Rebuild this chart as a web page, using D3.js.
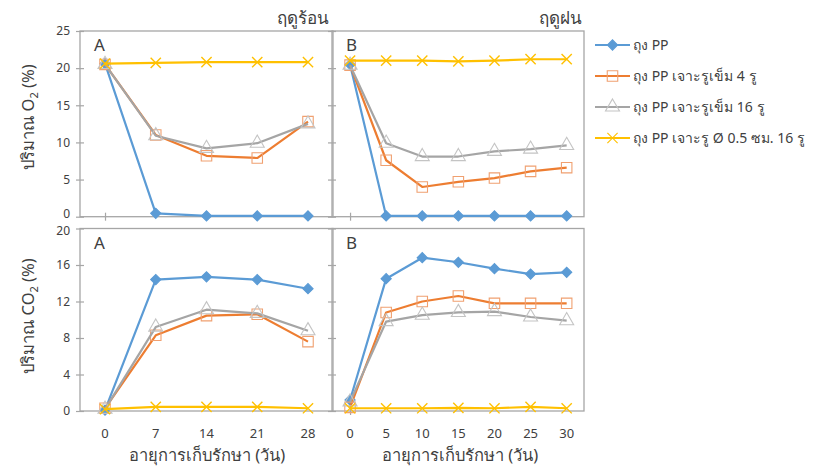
<!DOCTYPE html>
<html>
<head>
<meta charset="utf-8">
<script src="https://cdn.jsdelivr.net/npm/d3@7"></script>
<style>
  body { margin: 0; background: #fff; }
  svg text { font-family: "Noto Sans", "DejaVu Sans", sans-serif; fill: #404040; }
</style>
</head>
<body>
<div id="chart"></div>
<script>
// categorias (dias de almacenamiento)
var daysHot = [0, 7, 14, 21, 28];
var daysRain = [0, 5, 10, 15, 20, 25, 30];

var seriesNames = ["ถุง PP", "ถุง PP เจาะรูเข็ม 4 รู", "ถุง PP เจาะรูเข็ม 16 รู", "ถุง PP เจาะรู Ø 0.5 ซม. 16 รู"];
var seriesColors = ["#5B9BD5", "#ED7D31", "#A5A5A5", "#FFC000"];

// O2 ฤดูร้อน
var o2Hot = [
  [20.6, 0.45, 0.1, 0.1, 0.1],
  [20.5, 11.0, 8.2, 7.9, 12.8],
  [20.5, 10.9, 9.2, 9.9, 12.5],
  [20.6, 20.7, 20.8, 20.8, 20.8]
];
// O2 ฤดูฝน
var o2Rain = [
  [20.5, 0.1, 0.1, 0.1, 0.1, 0.1, 0.1],
  [20.4, 7.6, 4.0, 4.7, 5.2, 6.1, 6.6],
  [20.4, 9.9, 8.1, 8.1, 8.8, 9.1, 9.6],
  [21.0, 21.0, 21.0, 20.9, 21.0, 21.2, 21.2]
];
// CO2 ฤดูร้อน
var co2Hot = [
  [0.1, 14.4, 14.7, 14.4, 13.4],
  [0.3, 8.3, 10.45, 10.6, 7.6],
  [0.2, 9.2, 11.1, 10.7, 8.8],
  [0.2, 0.45, 0.45, 0.45, 0.3]
];
// CO2 ฤดูฝน
var co2Rain = [
  [1.2, 14.5, 16.8, 16.3, 15.6, 15.0, 15.2],
  [0.4, 10.8, 12.0, 12.6, 11.8, 11.8, 11.8],
  [1.0, 9.8, 10.5, 10.8, 10.9, 10.3, 9.9],
  [0.3, 0.3, 0.3, 0.35, 0.3, 0.45, 0.3]
];

var o2Ticks = [0, 5, 10, 15, 20, 25];
var co2Ticks = [0, 4, 8, 12, 16, 20];

var W = 813, H = 468;
var svg = d3.select("#chart").append("svg").attr("width", W).attr("height", H);

// escalas
var xHot = d3.scaleLinear().domain([-3.45, 31.45]).range([80, 333]);
var xRain = d3.scaleLinear().domain([-2.5, 32.4]).range([332, 584]);
var yO2 = d3.scaleLinear().domain([0, 25]).range([216.7, 31]);
var yCO2 = d3.scaleLinear().domain([0, 20]).range([411, 228.5]);

var frameColor = "#a6a6a6";

// marcadores (el rombo es un cuadrado girado 45 grados)
var markers = [
  { type: d3.symbolSquare, size: 52, fill: seriesColors[0], stroke: seriesColors[0], rot: 45 },
  { type: d3.symbolSquare, size: 110, fill: "none", stroke: "#F0A070", rot: 0 },
  { type: d3.symbolTriangle, size: 85, fill: "none", stroke: "#c4c4c4", rot: 0 },
  { type: d3.symbolTimes || d3.symbolCross, size: 70, fill: "none", stroke: seriesColors[3], rot: 0 }
];

// labelShift: corrimiento vertical de la etiqueta extrema (para que 0 y 20 no se pisen)
function panel(x, y, days, data, ticks, showYLabels, letter, labelShift) {
  var g = svg.append("g");
  var x0 = x.range()[0], x1 = x.range()[1];
  var yb = y.range()[0], yt = y.range()[1];

  // marco
  g.append("rect")
    .attr("x", x0).attr("y", yt)
    .attr("width", x1 - x0).attr("height", yb - yt)
    .attr("fill", "none").attr("stroke", frameColor).attr("stroke-width", 1.3);

  // eje Y
  var yAxis = d3.axisLeft(y).tickValues(ticks).tickSize(4).tickFormat(showYLabels ? d3.format("d") : "");
  var yAxisG = g.append("g").attr("transform", "translate(" + x0 + ",0)").call(yAxis);
  yAxisG.select(".domain").remove();
  yAxisG.selectAll(".tick line").attr("x1", -4).attr("x2", 4).attr("stroke", frameColor).attr("stroke-width", 1.2);
  yAxisG.selectAll(".tick text").attr("x", -10).style("font-size", "12px").attr("fill", "#404040")
    .attr("y", function(d) { return labelShift[d] || 0; });

  // eje X: solo marca en 0
  var xAxis = d3.axisBottom(x).tickValues([0]).tickSize(4).tickFormat("");
  var xAxisG = g.append("g").attr("transform", "translate(0," + yb + ")").call(xAxis);
  xAxisG.select(".domain").remove();
  xAxisG.selectAll(".tick line").attr("y1", -4).attr("y2", 4).attr("stroke", frameColor).attr("stroke-width", 1.2);

  g.append("text").attr("x", x0 + 14).attr("y", yt + 20)
    .style("font-size", "17px").attr("fill", "#1a1a1a").text(letter);

  var line = d3.line()
    .x(function(d, i) { return x(days[i]); })
    .y(function(d) { return y(d); });

  data.forEach(function(vals, s) {
    g.append("path").datum(vals)
      .attr("d", line)
      .attr("fill", "none")
      .attr("stroke", seriesColors[s])
      .attr("stroke-width", 2.2)
      .attr("stroke-linejoin", "round");
    var m = markers[s];
    g.selectAll(".m" + s).data(vals).enter().append("path")
      .attr("class", "m" + s)
      .attr("transform", function(d, i) { return "translate(" + x(days[i]) + "," + y(d) + ") rotate(" + m.rot + ")"; })
      .attr("d", d3.symbol().type(m.type).size(m.size))
      .attr("fill", m.fill)
      .attr("stroke", m.stroke)
      .attr("stroke-width", s === 3 ? 1.4 : 1.1);
  });
}

panel(xHot, yO2, daysHot, o2Hot, o2Ticks, true, "A", {0: -3});
panel(xRain, yO2, daysRain, o2Rain, o2Ticks, false, "B", {});
panel(xHot, yCO2, daysHot, co2Hot, co2Ticks, true, "A", {20: 2});
panel(xRain, yCO2, daysRain, co2Rain, co2Ticks, false, "B", {});

// etiquetas de dias
svg.append("g").selectAll("text").data(daysHot).enter().append("text")
  .attr("x", function(d) { return xHot(d); }).attr("y", 438)
  .attr("text-anchor", "middle").style("font-size", "13px").text(function(d) { return d; });
svg.append("g").selectAll("text").data(daysRain).enter().append("text")
  .attr("x", function(d) { return xRain(d); }).attr("y", 438)
  .attr("text-anchor", "middle").style("font-size", "13px").text(function(d) { return d; });

// titulos de estaciones
svg.append("text").attr("x", 329).attr("y", 24).attr("text-anchor", "end")
  .style("font-size", "17px").attr("fill", "#1a1a1a").text("ฤดูร้อน");
svg.append("text").attr("x", 582).attr("y", 24).attr("text-anchor", "end")
  .style("font-size", "17px").attr("fill", "#1a1a1a").text("ฤดูฝน");

// titulos de ejes
svg.append("text").attr("x", 207).attr("y", 461).attr("text-anchor", "middle")
  .style("font-size", "16.5px").attr("fill", "#262626").text("อายุการเก็บรักษา (วัน)");
svg.append("text").attr("x", 460).attr("y", 461).attr("text-anchor", "middle")
  .style("font-size", "16.5px").attr("fill", "#262626").text("อายุการเก็บรักษา (วัน)");

var yt1 = svg.append("text").attr("transform", "translate(34,117) rotate(-90)").attr("text-anchor", "middle")
  .style("font-size", "16.5px").attr("fill", "#262626");
yt1.append("tspan").text("ปริมาณ O");
yt1.append("tspan").attr("dy", 4).style("font-size", "11px").text("2");
yt1.append("tspan").attr("dy", -4).text(" (%)");

var yt2 = svg.append("text").attr("transform", "translate(34,316) rotate(-90)").attr("text-anchor", "middle")
  .style("font-size", "16.5px").attr("fill", "#262626");
yt2.append("tspan").text("ปริมาณ CO");
yt2.append("tspan").attr("dy", 4).style("font-size", "11px").text("2");
yt2.append("tspan").attr("dy", -4).text(" (%)");

// leyenda
var legend = svg.append("g").selectAll("g").data(seriesNames).enter().append("g")
  .attr("transform", function(d, i) { return "translate(595," + (45 + i * 31) + ")"; });
legend.append("line").attr("x1", 0).attr("x2", 35)
  .attr("stroke", function(d, i) { return seriesColors[i]; }).attr("stroke-width", 2.2);
legend.append("path")
  .attr("transform", function(d, i) { return "translate(17.5,0) rotate(" + markers[i].rot + ")"; })
  .attr("d", function(d, i) { return d3.symbol().type(markers[i].type).size(markers[i].size)(); })
  .attr("fill", function(d, i) { return markers[i].fill; })
  .attr("stroke", function(d, i) { return markers[i].stroke; })
  .attr("stroke-width", 1.1);
legend.append("text").attr("x", 38).attr("y", 5)
  .style("font-size", "14px").attr("fill", "#262626").text(function(d) { return d; });
</script>
</body>
</html>
